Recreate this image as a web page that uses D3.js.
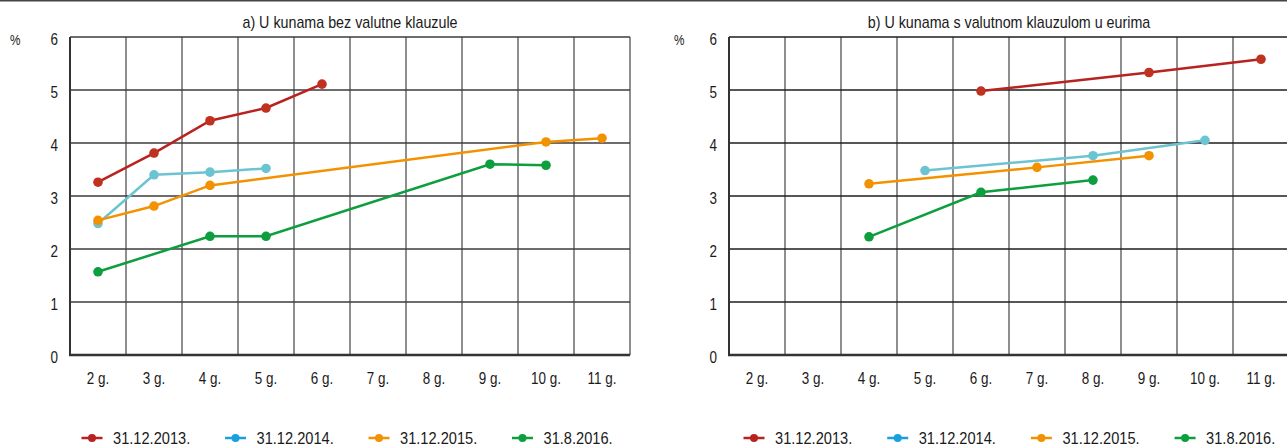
<!DOCTYPE html>
<html lang="hr">
<head>
    <meta charset="UTF-8">
    <title>Kamatne stope po dospijeću</title>
    <script src="https://cdnjs.cloudflare.com/ajax/libs/d3/7.8.5/d3.min.js"></script>
    <style>
        body { margin: 0; background: #fff; }
        svg text {
            font-family: "Liberation Sans", Arial, sans-serif;
            fill: #1a1a1a;
        }
        .axis path, .axis line { display: none; }
        .axis text { font-size: 16px; }
    </style>
</head>
<body>
<script type="text/javascript">
    const width = 1287;
    const height = 448;

    const categories = ["2 g.", "3 g.", "4 g.", "5 g.", "6 g.", "7 g.", "8 g.", "9 g.", "10 g.", "11 g."];
    const yTicks = [0, 1, 2, 3, 4, 5, 6];
    const seriesNames = ["31.12.2013.", "31.12.2014.", "31.12.2015.", "31.8.2016."];
    const lineColors = ["#b8231f", "#6cc4d2", "#f39200", "#0d9e3e"];
    const markerColors = ["#c0311f", "#6cc4d2", "#f39200", "#0d9e3e"];
    const legendColors = ["#b8231f", "#1a9fe0", "#f39200", "#0d9e3e"];

    // a) bez valutne klauzule
    const a2013 = [3.26, 3.81, 4.42, 4.66, 5.11, null, null, null, null, null];
    const a2014 = [2.48, 3.40, 3.45, 3.52, null, null, null, null, null, null];
    const a2015 = [2.54, 2.81, 3.20, null, null, null, null, null, 4.02, 4.09];
    const a2016 = [1.57, null, 2.24, 2.24, null, null, null, 3.60, 3.58, null];

    // b) s valutnom klauzulom u eurima
    const b2013 = [null, null, null, null, 4.98, null, null, 5.33, null, 5.58];
    const b2014 = [null, null, null, 3.48, null, null, 3.76, null, 4.05, null];
    const b2015 = [null, null, 3.23, null, null, 3.54, null, 3.76, null, null];
    const b2016 = [null, null, 2.23, null, 3.07, null, 3.30, null, null, null];

    const panels = [
        { title: "a) U kunama bez valutne klauzule", left: 70, series: [a2013, a2014, a2015, a2016],
          hGrid: "#3c3c3c", vGrid: "#8e8e8e", vWidth: 2, legendX: 92, legendStep: 143.5, pctX: 10 },
        { title: "b) U kunama s valutnom klauzulom u eurima", left: 729, series: [b2013, b2014, b2015, b2016],
          hGrid: "#1e1e1e", vGrid: "#1e1e1e", vWidth: 1, legendX: 754, legendStep: 143.7, pctX: 674 }
    ];

    const plotW = 560;
    const plotTop = 37;
    const plotBottom = 355;
    const squeeze = 0.84;   // reference uses a condensed face

    // squeeze text horizontally to mimic a condensed font
    function condense(sel, k) {
        sel.each(function() {
            const len = this.getComputedTextLength();
            d3.select(this)
                .attr("textLength", len * k)
                .attr("lengthAdjust", "spacingAndGlyphs");
        });
    }

    const svg = d3.select("body").append("svg")
        .attr("width", width)
        .attr("height", height);

    // top rule
    svg.append("line")
        .attr("x1", 0).attr("x2", width)
        .attr("y1", 0.5).attr("y2", 0.5)
        .attr("stroke", "#444").attr("stroke-width", 2);

    const yScale = d3.scaleLinear().domain([0, 6]).range([plotBottom, plotTop]);

    panels.forEach(function(p) {
        const xScale = d3.scaleBand()
            .domain(categories)
            .range([p.left, p.left + plotW]);
        const g = svg.append("g");

        // vertical grid
        g.selectAll(".vgrid")
            .data(categories.slice(1))
            .enter().append("line")
            .attr("x1", d => xScale(d)).attr("x2", d => xScale(d))
            .attr("y1", plotTop).attr("y2", plotBottom)
            .attr("stroke", p.vGrid).attr("stroke-width", p.vWidth);
        g.append("line")
            .attr("x1", p.left + plotW).attr("x2", p.left + plotW)
            .attr("y1", plotTop).attr("y2", plotBottom)
            .attr("stroke", p.vGrid).attr("stroke-width", p.vWidth);

        // horizontal grid
        g.selectAll(".hgrid")
            .data(yTicks.slice(1))
            .enter().append("line")
            .attr("x1", p.left).attr("x2", p.left + plotW)
            .attr("y1", d => yScale(d)).attr("y2", d => yScale(d))
            .attr("stroke", p.hGrid).attr("stroke-width", 1.5);

        // left and bottom axis lines
        g.append("line")
            .attr("x1", p.left).attr("x2", p.left)
            .attr("y1", plotTop).attr("y2", plotBottom)
            .attr("stroke", "#333").attr("stroke-width", 2);
        g.append("line")
            .attr("x1", p.left - 1).attr("x2", p.left + plotW)
            .attr("y1", plotBottom).attr("y2", plotBottom)
            .attr("stroke", "#333").attr("stroke-width", 2.5);

        // axes labels
        const yAx = g.append("g")
            .attr("class", "axis")
            .attr("transform", "translate(" + (p.left - 12) + ",2)")
            .call(d3.axisLeft(yScale).tickValues(yTicks).tickSize(0).tickPadding(0).tickFormat(d3.format("d")));
        const xAx = g.append("g")
            .attr("class", "axis")
            .attr("transform", "translate(0," + (plotBottom + 18) + ")")
            .call(d3.axisBottom(xScale).tickSize(0).tickPadding(0));
        condense(yAx.selectAll("text"), squeeze);
        condense(xAx.selectAll("text"), squeeze);

        g.append("text")
            .attr("x", p.pctX).attr("y", yScale(6) + 8)
            .attr("font-size", 14)
            .text("%")
            .call(condense, squeeze);

        g.append("text")
            .attr("x", p.left + plotW / 2).attr("y", 28)
            .attr("text-anchor", "middle")
            .attr("font-size", 17)
            .text(p.title)
            .call(condense, squeeze);

        // series
        const line = d3.line()
            .x(d => xScale(d.c) + xScale.bandwidth() / 2)
            .y(d => yScale(d.v));

        p.series.forEach(function(values, i) {
            const pts = values.map((v, k) => ({ c: categories[k], v: v }));
            const valid = pts.filter(d => d.v !== null);
            g.append("path")
                .datum(valid)
                .attr("fill", "none")
                .attr("stroke", lineColors[i])
                .attr("stroke-width", 2.5)
                .attr("d", line);
            g.selectAll(".pt" + i)
                .data(valid)
                .enter().append("circle")
                .attr("cx", d => xScale(d.c) + xScale.bandwidth() / 2)
                .attr("cy", d => yScale(d.v))
                .attr("r", 4.8)
                .attr("fill", markerColors[i]);
        });

        // legend
        const leg = g.selectAll(".leg")
            .data(seriesNames)
            .enter().append("g")
            .attr("transform", (d, i) => "translate(" + (p.legendX + i * p.legendStep) + ",438)");
        leg.append("line")
            .attr("x1", -10.5).attr("x2", 10.5)
            .attr("stroke", (d, i) => legendColors[i]).attr("stroke-width", 2.5);
        leg.append("circle")
            .attr("r", 4)
            .attr("fill", (d, i) => legendColors[i]);
        leg.append("text")
            .attr("x", 21).attr("y", 6)
            .attr("font-size", 17)
            .text(d => d)
            .call(condense, 0.86);
    });
</script>
</body>
</html>
